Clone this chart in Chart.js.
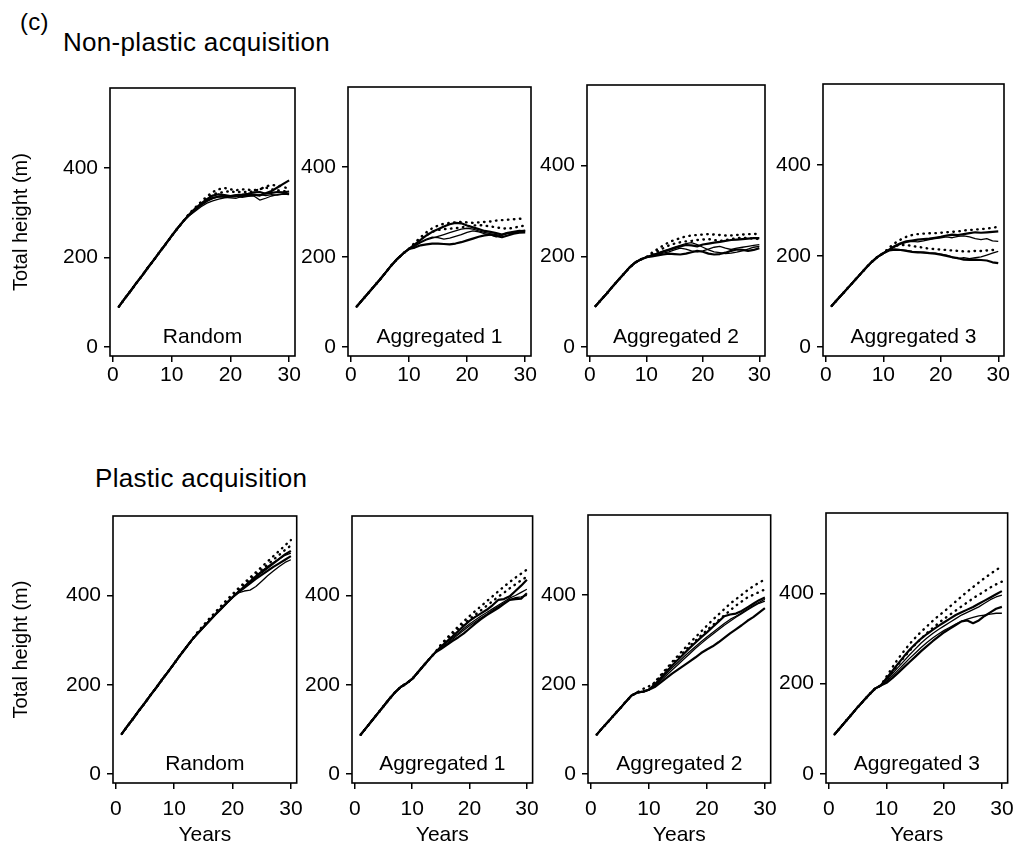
<!DOCTYPE html>
<html>
<head>
<meta charset="utf-8">
<script src="https://cdn.jsdelivr.net/npm/chart.js@4.4.1/dist/chart.umd.min.js"></script>
<style>
  body { margin: 0; background: #fff; width: 1016px; height: 846px; position: relative; overflow: hidden;
         font-family: 'Liberation Sans', Arial, sans-serif; color: #000; }
  canvas { position: absolute; }
  .ttl { position: absolute; font-size: 26px; line-height: 26px; white-space: nowrap; letter-spacing: 0.3px; }
</style>
</head>
<body>
<div class="ttl" style="left:20px;top:9px;font-size:24px;">(c)</div>
<div class="ttl" style="left:63px;top:29px;">Non-plastic acquisition</div>
<div class="ttl" style="left:95px;top:465px;">Plastic acquisition</div>
<script>
const years = [1,2,3,4,5,6,7,8,9,10,11,12,13,14,15,16,17,18,19,20,21,22,23,24,25,26,27,28,29,30];
const yTicks = [0, 200, 400];
const xTicks = [0, 10, 20, 30];
const panelNames = ['Random', 'Aggregated 1', 'Aggregated 2', 'Aggregated 3'];

// Non-plastic acquisition
const npRandomSolid = [
  [90,108,125,143,160,178,195,213,230,248,265,281,295,307,318,327,333,336,337,336,338,337,339,340,338,343,348,356,364,372],
  [90,108,125,143,160,178,195,213,230,248,265,281,294,305,316,325,331,335,334,333,332,336,338,337,328,332,337,340,342,343],
  [90,108,125,143,160,178,195,213,230,248,265,281,296,309,320,330,338,341,339,337,339,340,342,345,346,342,344,346,345,347],
  [90,108,125,143,160,178,195,213,230,248,265,281,293,303,313,321,326,330,333,335,336,334,336,338,340,338,340,339,341,340]
];
const npRandomDotted = [
  [90,108,125,143,160,178,195,213,230,248,265,281,298,311,324,336,346,352,355,352,350,352,351,350,352,356,352,350,348,346],
  [90,108,125,143,160,178,195,213,230,248,265,281,297,310,322,332,341,344,346,348,345,347,345,348,352,358,362,360,358,352]
];
const npAgg1Solid = [
  [90,105,120,135,150,166,182,196,208,218,228,238,248,256,262,268,273,276,275,270,266,262,258,256,253,250,254,256,258,257],
  [90,105,120,135,150,166,182,196,208,218,224,232,238,242,246,250,254,258,262,264,262,258,255,252,250,248,252,255,258,260],
  [90,105,120,135,150,166,182,196,208,218,221,226,228,230,230,229,228,230,233,237,241,245,248,250,247,244,248,252,254,255],
  [90,105,120,135,150,166,182,196,208,218,226,234,240,244,243,240,242,246,250,255,258,256,252,249,245,250,254,253,256,258]
];
const npAgg1Dotted = [
  [90,105,120,135,150,166,182,196,208,218,232,244,255,264,270,274,276,277,278,277,276,277,278,279,281,282,283,284,285,286],
  [90,105,120,135,150,166,182,196,208,218,230,240,249,256,260,262,263,264,266,268,270,271,270,268,266,264,263,265,268,270]
];
const npAgg2Solid = [
  [90,104,118,133,147,161,175,186,193,198,202,206,210,214,218,222,225,224,222,226,228,230,232,234,236,237,238,239,240,240],
  [90,104,118,133,147,161,175,186,193,198,201,204,207,210,214,218,216,212,210,212,216,220,222,218,215,218,220,222,224,226],
  [90,104,118,133,147,161,175,186,193,198,200,202,204,206,205,204,206,209,212,210,206,204,205,208,212,215,214,212,214,218],
  [90,104,118,133,147,161,175,186,193,198,203,207,212,216,220,224,228,230,226,220,214,210,208,206,207,209,212,216,220,222]
];
const npAgg2Dotted = [
  [90,104,118,133,147,161,175,186,193,198,208,216,224,231,236,240,244,246,247,248,249,248,247,246,246,247,248,249,249,250],
  [90,104,118,133,147,161,175,186,193,198,205,211,218,224,228,231,233,234,236,237,238,236,234,236,238,240,241,240,239,238]
];
const npAgg3Solid = [
  [90,104,118,132,146,160,174,187,198,206,214,222,228,232,234,236,237,238,240,242,245,247,246,248,250,252,251,252,253,254],
  [90,104,118,132,146,160,174,187,198,206,212,220,226,230,232,231,233,236,238,240,242,240,243,244,242,238,236,238,233,232],
  [90,104,118,132,146,160,174,187,198,206,212,214,213,211,209,208,208,206,205,203,200,197,195,192,191,192,191,190,186,184],
  [90,104,118,132,146,160,174,187,198,206,214,215,214,212,210,209,207,206,206,204,202,198,194,196,194,196,198,202,206,210]
];
const npAgg3Dotted = [
  [90,104,118,132,146,160,174,187,198,206,218,228,236,242,246,248,249,250,250,251,252,253,254,256,257,258,259,260,262,264],
  [90,104,118,132,146,160,174,187,198,206,216,222,224,224,222,220,218,216,215,214,213,212,211,210,210,211,211,212,213,214]
];

// Plastic acquisition
const pRandomSolid = [
  [90,108,125,143,160,178,195,213,230,248,266,283,300,315,329,343,357,370,383,396,408,419,430,441,452,462,472,482,492,500],
  [90,108,125,143,160,178,195,213,230,248,266,283,300,315,329,343,357,370,383,396,406,410,412,420,432,444,455,465,474,480],
  [90,108,125,143,160,178,195,213,230,248,266,283,300,315,329,343,357,370,383,396,407,417,427,437,446,455,464,472,480,488],
  [90,108,125,143,160,178,195,213,230,248,266,283,300,315,329,343,357,370,383,396,409,421,433,444,455,465,474,482,490,495]
];
const pRandomDotted = [
  [90,108,125,143,160,178,195,213,230,248,266,283,300,318,333,348,362,376,390,403,416,428,440,452,464,476,488,500,512,524],
  [90,108,125,143,160,178,195,213,230,248,266,283,300,317,331,345,359,373,386,400,412,424,436,447,458,469,480,491,502,512]
];
const pAgg1Solid = [
  [88,104,120,136,152,168,183,195,203,213,228,243,258,272,285,297,308,320,332,343,352,360,368,378,390,392,398,410,422,435],
  [88,104,120,136,152,168,183,195,203,213,228,243,258,272,284,295,305,315,326,336,345,354,362,370,378,386,394,400,407,414],
  [88,104,120,136,152,168,183,195,203,213,228,243,258,272,280,289,298,306,315,326,337,347,356,364,372,381,390,392,393,405],
  [88,104,120,136,152,168,183,195,203,213,228,243,258,272,282,292,302,312,322,332,341,350,358,367,375,383,390,395,397,400]
];
const pAgg1Dotted = [
  [88,104,120,136,152,168,183,195,203,213,228,243,258,272,290,304,317,330,342,354,365,376,387,398,409,420,430,440,449,458],
  [88,104,120,136,152,168,183,195,203,213,228,243,258,272,288,301,313,325,336,347,357,367,377,387,397,406,416,425,434,442]
];
const pAgg2Solid = [
  [88,103,117,132,146,161,175,182,184,188,200,214,228,242,255,268,281,293,305,316,328,340,352,356,358,364,372,380,388,394],
  [88,103,117,132,146,161,175,182,184,188,198,211,224,237,249,261,273,284,295,306,316,326,336,345,352,360,368,376,383,390],
  [88,103,117,132,146,161,175,182,184,188,194,204,214,224,233,242,251,260,270,278,285,294,304,314,323,332,342,350,360,370],
  [88,103,117,132,146,161,175,182,184,188,196,208,220,232,244,256,268,280,291,302,312,322,332,341,350,358,366,374,381,386]
];
const pAgg2Dotted = [
  [88,103,117,132,146,161,175,182,184,188,205,220,235,250,264,278,292,305,318,331,344,356,368,380,390,400,410,419,427,434],
  [88,103,117,132,146,161,175,182,190,196,204,218,232,246,259,272,285,297,309,321,332,343,354,365,376,385,394,400,406,412]
];
const pAgg3Solid = [
  [88,103,118,133,148,162,176,189,196,212,228,244,260,275,288,300,310,319,328,336,344,352,358,364,370,377,384,391,398,405],
  [88,103,118,133,148,162,176,189,196,208,222,236,250,264,277,290,301,311,320,328,336,344,352,358,364,370,378,386,392,396],
  [88,103,118,133,148,162,176,189,196,202,212,224,236,248,260,272,283,294,304,314,322,330,338,340,334,340,350,358,366,370],
  [88,103,118,133,148,162,176,189,196,205,217,230,243,256,268,280,291,301,310,318,325,332,338,343,347,350,352,354,356,356]
];
const pAgg3Dotted = [
  [88,103,118,133,148,162,176,189,196,216,236,255,272,288,302,315,327,339,350,360,371,382,393,404,414,424,434,443,452,460],
  [88,103,118,133,148,162,176,189,196,210,226,242,258,273,287,300,312,323,334,344,353,362,371,380,389,397,405,413,420,426]
];

const panelSolids = [npRandomSolid, npAgg1Solid, npAgg2Solid, npAgg3Solid, pRandomSolid, pAgg1Solid, pAgg2Solid, pAgg3Solid];
const panelDotted = [npRandomDotted, npAgg1Dotted, npAgg2Dotted, npAgg3Dotted, pRandomDotted, pAgg1Dotted, pAgg2Dotted, pAgg3Dotted];

// plot boxes in page pixels
const boxes = [
  { l: 110, t: 88, r: 295, b: 356 }, { l: 348, t: 87, r: 531, b: 356 },
  { l: 587, t: 85, r: 765, b: 356 }, { l: 823, t: 84, r: 1004, b: 356 },
  { l: 113, t: 516, r: 297, b: 783 }, { l: 352, t: 516, r: 533, b: 783 },
  { l: 588, t: 515, r: 771, b: 783 }, { l: 826, t: 513, r: 1008, b: 783 }
];

const PAD_TOP = 20;
const PAD_RIGHT = 14;
const solidWidths = [2.2, 1.3, 2.2, 1.3];

Chart.defaults.font.family = "'Liberation Sans', Arial, sans-serif";
Chart.defaults.font.size = 21;
Chart.defaults.color = '#000';

// frame round the plot and the name inside it
const framePlugin = {
  id: 'frame',
  afterDraw(chart, args, opts) {
    const { ctx, chartArea: a } = chart;
    ctx.save();
    ctx.strokeStyle = '#000';
    ctx.lineWidth = 1.6;
    ctx.strokeRect(a.left, a.top, a.right - a.left, a.bottom - a.top);
    ctx.font = "21px 'Liberation Sans', Arial, sans-serif";
    ctx.fillStyle = '#000';
    ctx.textAlign = 'center';
    ctx.textBaseline = 'middle';
    ctx.fillText(opts.name, (a.left + a.right) / 2, a.bottom - 19);
    ctx.restore();
  }
};

function makePanel(i) {
  const box = boxes[i];
  const bottomRow = i >= 4;
  const firstCol = i % 4 === 0;
  const yW = firstCol ? box.l : 60;
  const xH = bottomRow ? 66 : 42;

  const canvas = document.createElement('canvas');
  const w = (box.r - box.l) + yW + PAD_RIGHT;
  const h = (box.b - box.t) + PAD_TOP + xH;
  canvas.width = w;
  canvas.height = h;
  canvas.style.left = (box.l - yW) + 'px';
  canvas.style.top = (box.t - PAD_TOP) + 'px';
  canvas.style.width = w + 'px';
  canvas.style.height = h + 'px';
  document.body.appendChild(canvas);

  const datasets = [];
  panelSolids[i].forEach((d, k) => {
    datasets.push({ data: d, borderColor: '#000', borderWidth: solidWidths[k], pointRadius: 0,
      tension: 0, fill: false, borderJoinStyle: 'round' });
  });
  panelDotted[i].forEach(d => {
    datasets.push({ data: d, borderColor: '#000', borderWidth: 2.4, borderDash: [0.5, 5.5],
      borderCapStyle: 'round', pointRadius: 0, tension: 0, fill: false });
  });

  const tickGrid = { drawOnChartArea: false, drawTicks: true, tickLength: 6, color: '#000', lineWidth: 1.5 };

  new Chart(canvas, {
    type: 'line',
    data: { labels: years, datasets: datasets },
    options: {
      responsive: false,
      animation: false,
      layout: { padding: { top: PAD_TOP, right: PAD_RIGHT, left: 0, bottom: 0 } },
      plugins: { legend: { display: false }, tooltip: { enabled: false }, frame: { name: panelNames[i % 4] } },
      scales: {
        x: {
          type: 'linear', min: -0.5, max: 31,
          afterBuildTicks: s => { s.ticks = xTicks.map(v => ({ value: v })); },
          afterFit: s => { s.height = xH; },
          grid: tickGrid,
          border: { display: false },
          ticks: { padding: bottomRow ? 8 : 1, maxRotation: 0, autoSkip: false },
          title: { display: bottomRow, text: 'Years', font: { size: 21 }, padding: { top: 0, bottom: 1 } }
        },
        y: {
          min: -20, max: 578,
          afterBuildTicks: s => { s.ticks = yTicks.map(v => ({ value: v })); },
          afterFit: s => { s.width = yW; },
          grid: tickGrid,
          border: { display: false },
          ticks: { padding: 6 },
          title: { display: firstCol, text: 'Total height (m)', font: { size: 20 }, padding: { top: 9, bottom: 0 } }
        }
      }
    },
    plugins: [framePlugin]
  });
}

for (let i = 0; i < 8; i++) makePanel(i);
</script>
</body>
</html>
